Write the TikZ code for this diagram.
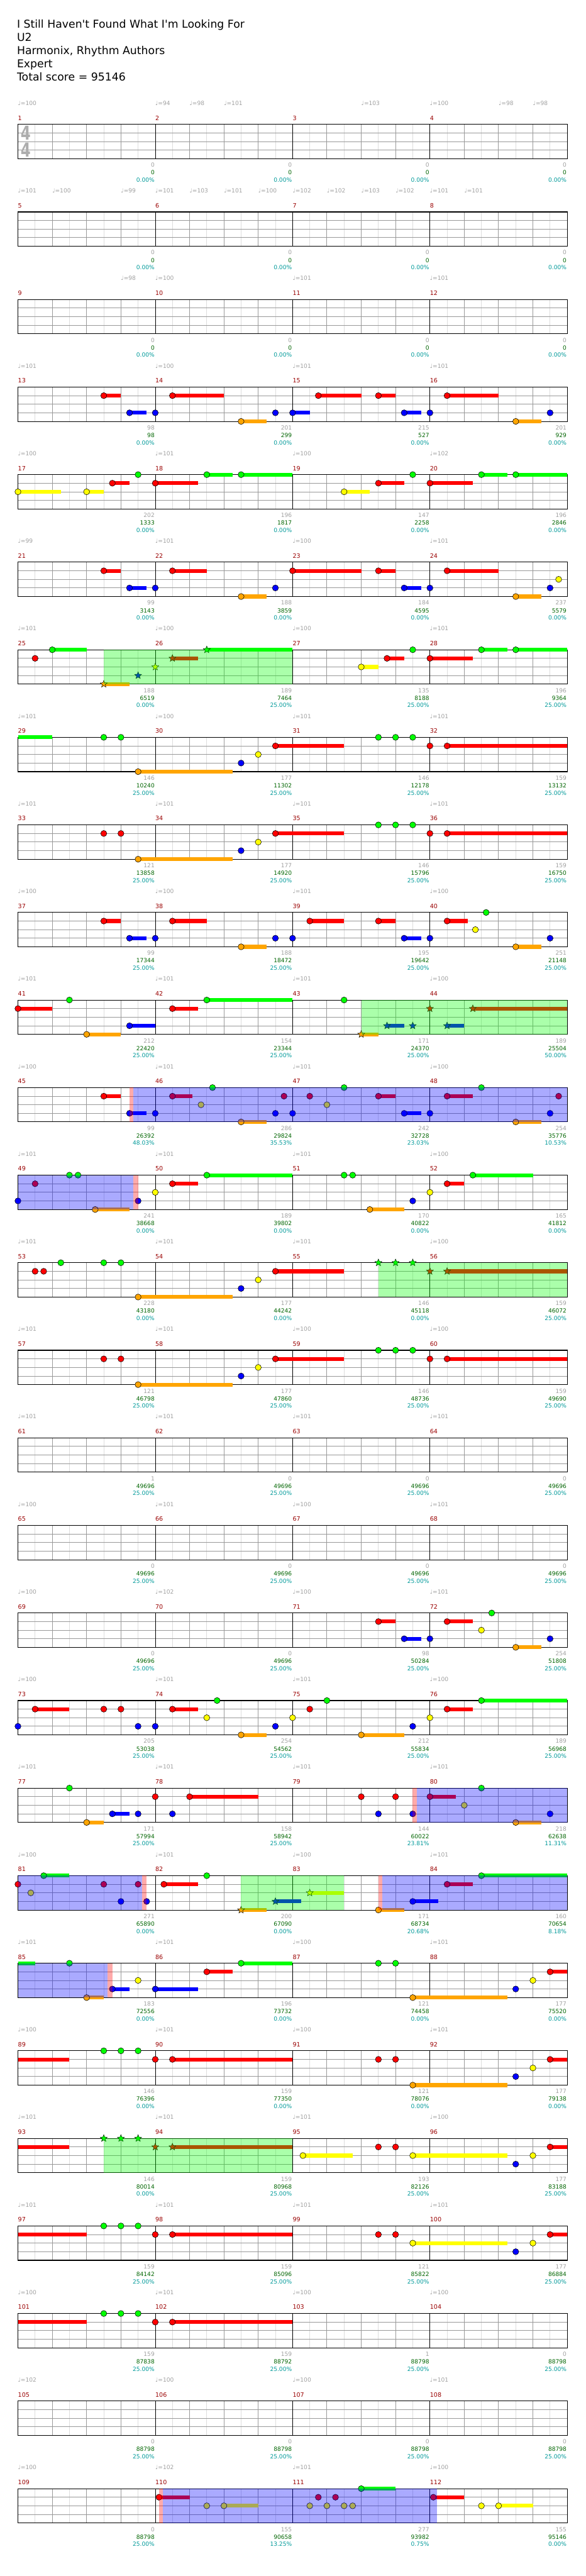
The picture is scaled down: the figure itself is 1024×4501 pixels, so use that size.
\documentclass[tikz,border=0pt]{standalone}
\usepackage{fontspec}
\newfontfamily\chartfont{DejaVu Sans}
\usetikzlibrary{shapes.geometric}

\definecolor{lane0}{HTML}{00FF00}
\definecolor{lane1}{HTML}{FF0000}
\definecolor{lane2}{HTML}{FFFF00}
\definecolor{lane3}{HTML}{0000FF}
\definecolor{lane4}{HTML}{FFA500}
\definecolor{measred}{HTML}{990000}
\definecolor{tempogray}{HTML}{A0A0A0}
\definecolor{scoregray}{HTML}{A0A0A0}
\definecolor{scoregreen}{HTML}{006400}
\definecolor{scoreteal}{HTML}{009999}
\definecolor{gridlight}{HTML}{DDDDDD}
\definecolor{gridmid}{HTML}{999999}

% top edge of the staff of row #1
\newcommand\rowtop[1]{\pgfmathsetmacro\rtop{217.3+153*(#1-1)}}
% notes: pos (16ths) / lane / sustain
\newcommand\notes[2]{\rowtop{#1}%
  \foreach \pos/\lane/\len in {#2}{%
    \ifdim\len pt>0pt \draw[sustain,draw=lane\lane] (31.33+15*\pos,\rtop+15*\lane) -- ++(15*\len,0);\fi
    \draw[notehead,fill=lane\lane] (31.33+15*\pos,\rtop+15*\lane) circle[radius=5.3pt];}}
\newcommand\stars[2]{\rowtop{#1}%
  \foreach \pos/\lane/\len [count=\cnt] in {#2}{%
    \ifdim\len pt>0pt \draw[sustain,draw=lane\lane] (31.33+15*\pos,\rtop+15*\lane) -- ++(15*\len,0);\fi
    \node[starnote,fill=lane\lane] (star#1-\cnt) at (31.33+15*\pos,\rtop+15*\lane) {};}}
\newcommand\tail[3]{\rowtop{#1}%
  \draw[sustain,draw=lane#2] (31.33,\rtop+15*#2) -- (31.33+15*#3,\rtop+15*#2);}
\newcommand\zone[4]{\rowtop{#1}%
  \fill[fill=#4,fill opacity=0.333] (31.33+15*#2,\rtop) rectangle (31.33+15*#3,\rtop+60);}
\newcommand\tempos[2]{\rowtop{#1}%
  \foreach \bt/\tv [count=\cnt] in {#2}{%
    \node[tempotxt] (tempo#1-\cnt) at (31.33+60*\bt,\rtop-33.3) {♩=\tv};}}
\newcommand\scores[2]{\rowtop{#1}%
  \foreach \ptsA/\ptsB/\ptsC [count=\col] in {#2}{%
    \node[scoretxt,text=scoregray] (pts#1-\col) at (30.3+240*\col,\rtop+74.7) {\ptsA};
    \node[scoretxt,text=scoregreen] (sum#1-\col) at (30.3+240*\col,\rtop+88) {\ptsB};
    \node[scoretxt,text=scoreteal] (pct#1-\col) at (30.3+240*\col,\rtop+100.7) {\ptsC\%};}}

\begin{document}
\begin{tikzpicture}[x=1pt,y=-1pt,
  halfline/.style={draw=gridlight, line width=1pt},
  beatline/.style={draw=gridmid, line width=1pt},
  laneline/.style={draw=gridmid, line width=1pt},
  barline/.style={draw=black, line width=0.9pt},
  frame/.style={draw=black, line width=1.2pt},
  sustain/.style={line width=6.7pt},
  notehead/.style={draw=black, line width=0.6pt},
  starnote/.style={star, star points=5, star point ratio=2.3, minimum size=13pt, inner sep=0pt, draw=black, line width=0.5pt},
  measnum/.style={anchor=base west, inner sep=0pt, text=measred, font=\chartfont\fontsize{10.5}{12}\selectfont},
  tempotxt/.style={anchor=base west, inner sep=0pt, text=tempogray, font=\chartfont\fontsize{10}{12}\selectfont},
  scoretxt/.style={anchor=base east, inner sep=0pt, font=\chartfont\fontsize{10}{12}\selectfont},
  titletxt/.style={anchor=base west, inner sep=0pt, font=\chartfont\fontsize{19}{23}\selectfont},
  timesig/.style={inner sep=0pt, text=gridmid!80, font=\chartfont\bfseries\fontsize{33.6}{34}\selectfont}
]
\useasboundingbox (0,0) rectangle (1024,4501);

% header
\node[titletxt] (title) at (29.5,49) {I Still Haven't Found What I'm Looking For};
\node[titletxt] (artist) at (29.5,72) {U2};
\node[titletxt] (charter) at (29.5,95) {Harmonix, Rhythm Authors};
\node[titletxt] (level) at (29.5,118) {Expert};
\node[titletxt] (total) at (29.5,141) {Total score = 95146};

% staffs
\foreach \r in {1,...,28}{
  \rowtop{\r}
  \foreach \i in {1,3,...,31} \draw[halfline] (31.33+30*\i,\rtop) -- ++(0,60);
  \foreach \i in {1,2,3} \draw[laneline] (31.33,\rtop+15*\i) -- ++(960,0);
  \foreach \i in {1,2,3,5,6,7,9,10,11,13,14,15} \draw[beatline] (31.33+60*\i,\rtop) -- ++(0,60);
  \foreach \i in {1,2,3} \draw[barline] (31.33+240*\i,\rtop) -- ++(0,60);
  \draw[frame] (31.33,\rtop) rectangle ++(960,60);
  \foreach \i in {0,...,3}{
    \pgfmathtruncatemacro\mn{4*(\r-1)+\i+1}
    \node[measnum] (m\mn) at (31.33+240*\i,\rtop-7.3) {\mn};
  }
}
\node[timesig] (sigtop) at (44.8,232.8) {\scalebox{0.75}[1]{4}};
\node[timesig] (sigbot) at (44.8,262.4) {\scalebox{0.75}[1]{4}};

% notes
\notes{4}{10/1/2, 13/3/2, 16/3/0, 18/1/6, 26/4/3, 30/3/0, 32/3/2, 35/1/5, 42/1/2, 45/3/2, 48/3/0, 50/1/6, 58/4/3, 62/3/0}
\notes{5}{0/2/5, 8/2/2, 11/1/2, 14/0/0, 16/1/5, 22/0/3, 26/0/6, 38/2/3, 42/1/3, 46/0/0, 48/1/5, 54/0/3, 58/0/6}
\notes{6}{10/1/2, 13/3/2, 16/3/0, 18/1/4, 26/4/3, 30/3/0, 32/1/8, 42/1/2, 45/3/2, 48/3/0, 50/1/6, 58/4/3, 62/3/0, 63/2/0}
\notes{7}{2/1/0, 4/0/4, 40/2/2, 43/1/2, 46/0/0, 48/1/5, 54/0/3, 58/0/6}
\stars{7}{10/4/3, 14/3/0, 16/2/0, 18/1/3, 22/0/10}
\tail{8}{0}{4}
\notes{8}{10/0/0, 12/0/0, 14/4/11, 26/3/0, 28/2/0, 30/1/8, 42/0/0, 44/0/0, 46/0/0, 48/1/0, 50/1/14}
\notes{9}{10/1/0, 12/1/0, 14/4/11, 26/3/0, 28/2/0, 30/1/8, 42/0/0, 44/0/0, 46/0/0, 48/1/0, 50/1/14}
\notes{10}{10/1/2, 13/3/2, 16/3/0, 18/1/4, 26/4/3, 30/3/0, 32/3/0, 34/1/4, 42/1/2, 45/3/2, 48/3/0, 50/1/2.4, 53.3/2/0, 54.55/0/0, 58/4/3, 62/3/0}
\notes{11}{0/1/4, 6/0/0, 8/4/4, 13/3/3, 18/1/3, 22/0/10, 38/0/0}
\stars{11}{40/4/2, 43/3/2, 46/3/0, 48/1/0, 50/3/2, 53/1/11}
\notes{12}{10/1/2, 13/3/2, 16/3/0, 18/1/2.33, 21.33/2/0, 22.67/0/0, 26/4/3, 30/3/0, 31/1/0, 32/3/0, 34/1/0, 36/2/0, 38/0/0, 42/1/2, 45/3/2, 48/3/0, 50/1/3, 54/0/0, 58/4/3, 62/3/0, 63/1/0}
\notes{13}{0/3/0, 2/1/0, 6/0/0, 7/0/0, 9/4/4, 14/3/0, 16/2/0, 18/1/3, 22/0/10, 38/0/0, 39/0/0, 41/4/4, 46/3/0, 48/2/0, 50/1/2, 53/0/7}
\notes{14}{2/1/0, 3/1/0, 5/0/0, 10/0/0, 12/0/0, 14/4/11, 26/3/0, 28/2/0, 30/1/8}
\stars{14}{42/0/0, 44/0/0, 46/0/0, 48/1/0, 50/1/14}
\notes{15}{10/1/0, 12/1/0, 14/4/11, 26/3/0, 28/2/0, 30/1/8, 42/0/0, 44/0/0, 46/0/0, 48/1/0, 50/1/14}
\notes{18}{42/1/2, 45/3/2, 48/3/0, 50/1/3, 54/2/0, 55.2/0/0, 58/4/3, 62/3/0}
\notes{19}{0/3/0, 2/1/4, 10/1/0, 12/1/0, 14/3/0, 16/3/0, 18/1/3, 22/2/0, 23.2/0/0, 26/4/3, 30/3/0, 32/2/0, 34/1/0, 36/0/0, 40/4/5, 46/3/0, 48/2/0, 50/1/3, 54/0/10}
\notes{20}{6/0/0, 8/4/2, 11/3/2, 14/3/0, 16/1/0, 18/3/0, 20/1/8, 40/1/0, 42/3/0, 44/1/0, 46/3/0, 48/1/3, 52/2/0, 54/0/0, 58/4/3, 62/3/0}
\notes{21}{0/1/0, 1.5/2/0, 3/0/3, 10/1/0, 12/3/0, 14/1/0, 15/3/0, 17/1/4, 22/0/0, 42/4/3, 46/3/3, 50/1/3, 54/0/10}
\stars{21}{26/4/3, 30/3/3, 34/2/4}
\tail{22}{0}{2}
\notes{22}{6/0/0, 8/4/2, 11/3/2, 14/2/0, 16/3/5, 22/1/3, 26/0/6, 42/0/0, 44/0/0, 46/4/11, 58/3/0, 60/2/0, 62/1/2}
\tail{23}{1}{6}
\notes{23}{10/0/0, 12/0/0, 14/0/0, 16/1/0, 18/1/14, 42/1/0, 44/1/0, 46/4/11, 58/3/0, 60/2/0, 62/1/2}
\tail{24}{1}{6}
\stars{24}{10/0/0, 12/0/0, 14/0/0, 16/1/0, 18/1/14}
\notes{24}{33.2/2/5.8, 42/1/0, 44/1/0, 46/2/11, 58/3/0, 60/2/0, 62/1/2}
\tail{25}{1}{8}
\notes{25}{10/0/0, 12/0/0, 14/0/0, 16/1/0, 18/1/14, 42/1/0, 44/1/0, 46/2/11, 58/3/0, 60/2/0, 62/1/2}
\tail{26}{1}{8}
\notes{26}{10/0/0, 12/0/0, 14/0/0, 16/1/0, 18/1/14}
\notes{28}{16.43/1/3.57, 22/2/0, 24/2/4, 34/2/0, 35/1/0, 36/2/0, 37/1/0, 38/2/0, 39/2/0, 40/0/4, 48.4/1/3.6, 54/2/0, 56/2/4}

% star power and activation zones
\zone{7}{10}{32}{green}
\zone{11}{40}{64}{green}
\zone{12}{13}{13.45}{red}
\zone{12}{13.45}{64}{blue}
\zone{13}{0}{13.45}{blue}
\zone{13}{13.45}{14}{red}
\zone{14}{42}{64}{green}
\zone{20}{46}{46.45}{red}
\zone{20}{46.45}{64}{blue}
\zone{21}{0}{14.45}{blue}
\zone{21}{14.45}{15}{red}
\zone{21}{26}{38}{green}
\zone{21}{42}{42.45}{red}
\zone{21}{42.45}{64}{blue}
\zone{22}{0}{10.45}{blue}
\zone{22}{10.45}{11}{red}
\zone{24}{10}{32}{green}
\zone{28}{16.43}{16.87}{red}
\zone{28}{16.87}{48.8}{blue}

% tempo marks: beat / bpm
\tempos{1}{0/100, 4/94, 5/98, 6/101, 10/103, 12/100, 14/98, 15/98}
\tempos{2}{0/101, 1/100, 3/99, 4/101, 5/103, 6/101, 7/100, 8/102, 9/102, 10/103, 11/102, 12/101, 13/101}
\tempos{3}{3/98, 4/100, 8/101, 12/101}
\tempos{4}{0/101, 4/100, 8/101, 12/101}
\tempos{5}{0/100, 4/101, 8/100, 12/102}
\tempos{6}{0/99, 4/101, 8/100, 12/101}
\tempos{7}{0/101, 4/100, 8/100, 12/101}
\tempos{8}{0/101, 4/100, 8/101, 12/101}
\tempos{9}{0/101, 4/101, 8/101, 12/101}
\tempos{10}{0/100, 4/100, 8/101, 12/100}
\tempos{11}{0/101, 4/101, 8/101, 12/100}
\tempos{12}{0/100, 4/101, 8/101, 12/100}
\tempos{13}{0/101, 4/101, 8/101, 12/100}
\tempos{14}{0/101, 4/101, 8/101, 12/100}
\tempos{15}{0/101, 4/101, 8/100, 12/100}
\tempos{16}{0/101, 4/101, 8/101, 12/101}
\tempos{17}{0/100, 4/101, 8/100, 12/101}
\tempos{18}{0/100, 4/102, 8/100, 12/101}
\tempos{19}{0/100, 4/101, 8/101, 12/100}
\tempos{20}{0/101, 4/101, 8/101, 12/101}
\tempos{21}{0/100, 4/101, 8/100, 12/101}
\tempos{22}{0/101, 4/101, 8/100, 12/101}
\tempos{23}{0/100, 4/101, 8/100, 12/101}
\tempos{24}{0/101, 4/101, 8/101, 12/100}
\tempos{25}{0/101, 4/101, 8/101, 12/101}
\tempos{26}{0/100, 4/101, 8/100, 12/100}
\tempos{27}{0/102, 4/100, 8/100, 12/101}
\tempos{28}{0/100, 4/102, 8/101, 12/100}

% scores: measure / running total / multiplier share
\scores{1}{0/0/0.00, 0/0/0.00, 0/0/0.00, 0/0/0.00}
\scores{2}{0/0/0.00, 0/0/0.00, 0/0/0.00, 0/0/0.00}
\scores{3}{0/0/0.00, 0/0/0.00, 0/0/0.00, 0/0/0.00}
\scores{4}{98/98/0.00, 201/299/0.00, 215/527/0.00, 201/929/0.00}
\scores{5}{202/1333/0.00, 196/1817/0.00, 147/2258/0.00, 196/2846/0.00}
\scores{6}{99/3143/0.00, 188/3859/0.00, 184/4595/0.00, 237/5579/0.00}
\scores{7}{188/6519/0.00, 189/7464/25.00, 135/8188/25.00, 196/9364/25.00}
\scores{8}{146/10240/25.00, 177/11302/25.00, 146/12178/25.00, 159/13132/25.00}
\scores{9}{121/13858/25.00, 177/14920/25.00, 146/15796/25.00, 159/16750/25.00}
\scores{10}{99/17344/25.00, 188/18472/25.00, 195/19642/25.00, 251/21148/25.00}
\scores{11}{212/22420/25.00, 154/23344/25.00, 171/24370/25.00, 189/25504/50.00}
\scores{12}{99/26392/48.03, 286/29824/35.53, 242/32728/23.03, 254/35776/10.53}
\scores{13}{241/38668/0.00, 189/39802/0.00, 170/40822/0.00, 165/41812/0.00}
\scores{14}{228/43180/0.00, 177/44242/0.00, 146/45118/0.00, 159/46072/25.00}
\scores{15}{121/46798/25.00, 177/47860/25.00, 146/48736/25.00, 159/49690/25.00}
\scores{16}{1/49696/25.00, 0/49696/25.00, 0/49696/25.00, 0/49696/25.00}
\scores{17}{0/49696/25.00, 0/49696/25.00, 0/49696/25.00, 0/49696/25.00}
\scores{18}{0/49696/25.00, 0/49696/25.00, 98/50284/25.00, 254/51808/25.00}
\scores{19}{205/53038/25.00, 254/54562/25.00, 212/55834/25.00, 189/56968/25.00}
\scores{20}{171/57994/25.00, 158/58942/25.00, 144/60022/23.81, 218/62638/11.31}
\scores{21}{271/65890/0.00, 200/67090/0.00, 171/68734/20.68, 160/70654/8.18}
\scores{22}{183/72556/0.00, 196/73732/0.00, 121/74458/0.00, 177/75520/0.00}
\scores{23}{146/76396/0.00, 159/77350/0.00, 121/78076/0.00, 177/79138/0.00}
\scores{24}{146/80014/0.00, 159/80968/25.00, 193/82126/25.00, 177/83188/25.00}
\scores{25}{159/84142/25.00, 159/85096/25.00, 121/85822/25.00, 177/86884/25.00}
\scores{26}{159/87838/25.00, 159/88792/25.00, 1/88798/25.00, 0/88798/25.00}
\scores{27}{0/88798/25.00, 0/88798/25.00, 0/88798/25.00, 0/88798/25.00}
\scores{28}{0/88798/25.00, 155/90658/13.25, 277/93982/0.75, 155/95146/0.00}
\end{tikzpicture}
\end{document}
